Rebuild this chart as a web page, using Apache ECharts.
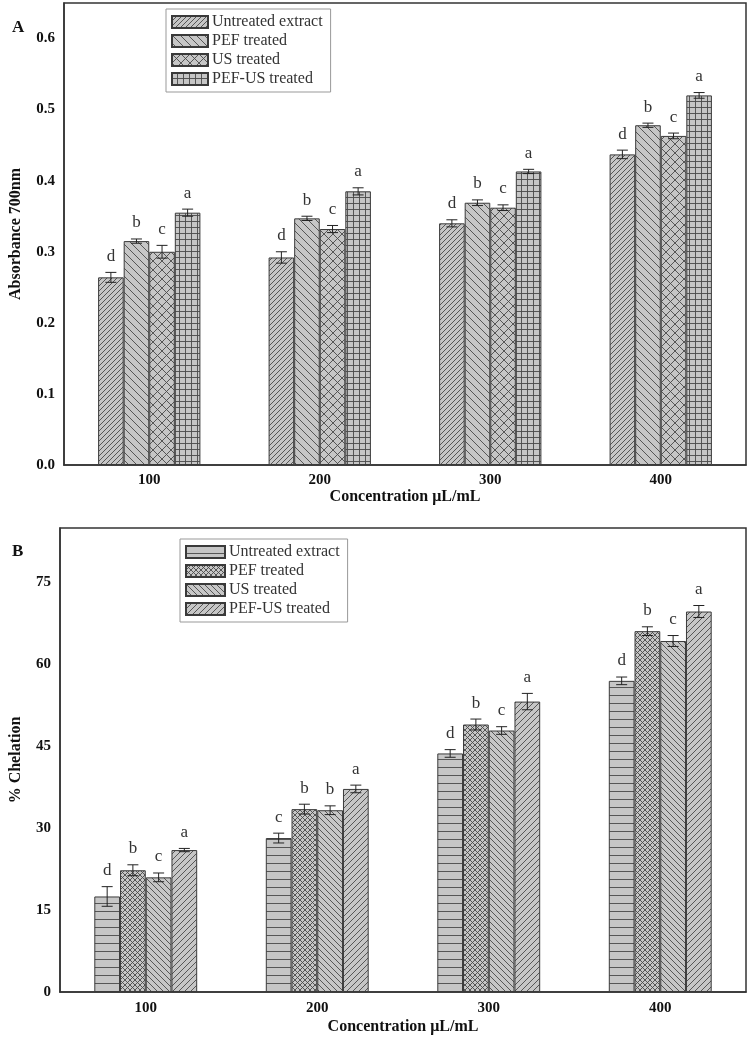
<!DOCTYPE html>
<html>
<head>
<meta charset="utf-8">
<script src="https://cdn.jsdelivr.net/npm/echarts@6/dist/echarts.min.js"></script>
<style>
html,body{margin:0;padding:0;background:#fff;}
#chart{width:750px;height:1038px;}
</style>
</head>
<body>
<div id="chart"></div>
<script>
// ---------- DATA ----------
const categories = ['100', '200', '300', '400'];
const groupNames = ['Untreated extract', 'PEF treated', 'US treated', 'PEF-US treated'];

// Panel A: Absorbance 700nm
const absUntreated = [0.264, 0.292, 0.340, 0.437];
const absPEF       = [0.315, 0.347, 0.369, 0.478];
const absUS        = [0.300, 0.332, 0.362, 0.463];
const absPEFUS     = [0.355, 0.385, 0.413, 0.520];
const absUntreatedErr = [0.007, 0.008, 0.005, 0.006];
const absPEFErr       = [0.003, 0.003, 0.004, 0.003];
const absUSErr        = [0.009, 0.005, 0.004, 0.004];
const absPEFUSErr     = [0.005, 0.005, 0.003, 0.004];
const absUntreatedLetters = ['d', 'd', 'd', 'd'];
const absPEFLetters       = ['b', 'b', 'b', 'b'];
const absUSLetters        = ['c', 'c', 'c', 'c'];
const absPEFUSLetters     = ['a', 'a', 'a', 'a'];

// Panel B: % Chelation
const chelUntreated = [17.5, 28.2, 43.7, 57.0];
const chelPEF       = [22.3, 33.5, 49.0, 66.1];
const chelUS        = [21.0, 33.3, 47.9, 64.3];
const chelPEFUS     = [26.0, 37.2, 53.2, 69.7];
const chelUntreatedErr = [1.8, 0.9, 0.7, 0.7];
const chelPEFErr       = [1.0, 0.9, 1.0, 0.8];
const chelUSErr        = [0.8, 0.8, 0.7, 1.0];
const chelPEFUSErr     = [0.3, 0.7, 1.5, 1.1];
const chelUntreatedLetters = ['d', 'c', 'd', 'd'];
const chelPEFLetters       = ['b', 'b', 'b', 'b'];
const chelUSLetters        = ['c', 'b', 'c', 'c'];
const chelPEFUSLetters     = ['a', 'a', 'a', 'a'];

const absTicks = [0, 0.65, 0.1];
const chelTicks = [0, 85, 15];

// ---------- STYLE ----------
const FONT = 'Liberation Serif';
const FILL = '#c6c6c6';
const INK = '#4a4a4a';

function makePattern(type, s) {
  const c = document.createElement('canvas');
  c.width = s; c.height = s;
  const g = c.getContext('2d');
  g.fillStyle = FILL; g.fillRect(0, 0, s, s);
  g.strokeStyle = INK; g.lineWidth = 0.9;
  g.beginPath();
  if (type === 'fwd' || type === 'cross') {
    for (let i = -1; i <= 1; i++) { g.moveTo(i * s, s); g.lineTo(i * s + s, 0); }
  }
  if (type === 'back' || type === 'cross') {
    for (let i = -1; i <= 1; i++) { g.moveTo(i * s, 0); g.lineTo(i * s + s, s); }
  }
  if (type === 'horiz' || type === 'grid') {
    g.moveTo(0, s - 0.5); g.lineTo(s, s - 0.5);
  }
  if (type === 'grid') {
    g.moveTo(s - 0.5, 0); g.lineTo(s - 0.5, s);
  }
  g.stroke();
  return { image: c, repeat: 'repeat' };
}

const patA = [makePattern('fwd', 5), makePattern('back', 8), makePattern('cross', 9), makePattern('grid', 6)];
const patB = [makePattern('horiz', 8), makePattern('cross', 5), makePattern('back', 6), makePattern('fwd', 6)];

const panels = [
  { prefix: 'A|', vals: [absUntreated, absPEF, absUS, absPEFUS],
    errs: [absUntreatedErr, absPEFErr, absUSErr, absPEFUSErr],
    letters: [absUntreatedLetters, absPEFLetters, absUSLetters, absPEFUSLetters], pats: patA },
  { prefix: 'B|', vals: [chelUntreated, chelPEF, chelUS, chelPEFUS],
    errs: [chelUntreatedErr, chelPEFErr, chelUSErr, chelPEFUSErr],
    letters: [chelUntreatedLetters, chelPEFLetters, chelUSLetters, chelPEFUSLetters], pats: patB }
];

const N = groupNames.length;
const GAP_FRAC = 0.6; // bars occupy 60% of the band (barCategoryGap 40%)

function errRender(idx, letters) {
  return function (params, api) {
    const ci = api.value(0), v = api.value(1), e = api.value(2);
    const band = api.size([1, 0])[0];
    const bw = band * GAP_FRAC / N;
    const off = (idx - (N - 1) / 2) * bw;
    const top = api.coord([ci, v + e]);
    const bot = api.coord([ci, v - e]);
    const x = top[0] + off;
    const cap = 5.5;
    const ls = { stroke: '#222', lineWidth: 1 };
    return {
      type: 'group',
      children: [
        { type: 'line', shape: { x1: x, y1: top[1], x2: x, y2: bot[1] }, style: ls },
        { type: 'line', shape: { x1: x - cap, y1: top[1], x2: x + cap, y2: top[1] }, style: ls },
        { type: 'line', shape: { x1: x - cap, y1: bot[1], x2: x + cap, y2: bot[1] }, style: ls },
        { type: 'text', x: x, y: top[1] - 16,
          style: { text: letters[params.dataIndex], fill: '#333', font: '17px "' + FONT + '"',
                   align: 'center', verticalAlign: 'middle' } }
      ]
    };
  };
}

const series = [];
panels.forEach((p, pi) => {
  groupNames.forEach((name, si) => {
    series.push({
      type: 'bar', name: p.prefix + name, xAxisIndex: pi, yAxisIndex: pi,
      data: p.vals[si], barGap: '0%', barCategoryGap: '40%',
      itemStyle: { color: p.pats[si], borderColor: '#3a3a3a', borderWidth: 1 },
      emphasis: { disabled: true }, z: 2
    });
  });
  groupNames.forEach((name, si) => {
    series.push({
      type: 'custom', name: p.prefix + 'err' + si, xAxisIndex: pi, yAxisIndex: pi,
      data: p.vals[si].map((v, i) => [i, v, p.errs[si][i]]),
      renderItem: errRender(si, p.letters[si]), clip: false, z: 5, silent: true
    });
  });
});

const axisLabelY = { color: '#111', fontFamily: FONT, fontWeight: 'bold', fontSize: 15, margin: 9, showMaxLabel: false };
const axisLabelX = { color: '#111', fontFamily: FONT, fontWeight: 'bold', fontSize: 15 };
const nameStyle = { color: '#111', fontFamily: FONT, fontWeight: 'bold', fontSize: 16 };
const axisLine = { show: true, lineStyle: { color: '#333', width: 1.5 } };

function legendFor(pi, left, top, iw) {
  return {
    show: true, orient: 'vertical', left: left, top: top,
    data: groupNames.map(n => panels[pi].prefix + n),
    formatter: n => n.slice(2),
    icon: 'rect', itemWidth: iw, itemHeight: 12, itemGap: 3,
    padding: [5, 8, 5, 5],
    borderColor: '#999', borderWidth: 1, backgroundColor: '#fff',
    textStyle: { color: '#333', fontFamily: FONT, fontSize: 16, lineHeight: 16, padding: [0, 0, 0, -1] },
    selectedMode: false
  };
}

const option = {
  animation: false,
  backgroundColor: '#fff',
  textStyle: { fontFamily: FONT },
  title: [
    { text: 'A', left: 7, top: 14, textStyle: { fontFamily: FONT, fontWeight: 'bold', fontSize: 17, color: '#111' } },
    { text: 'B', left: 7, top: 538, textStyle: { fontFamily: FONT, fontWeight: 'bold', fontSize: 17, color: '#111' } }
  ],
  legend: [legendFor(0, 166, 9, 36), legendFor(1, 180, 539, 39)],
  grid: [
    { left: 62, right: 4, top: 3, height: 462, show: true, borderColor: '#333', borderWidth: 1.5, containLabel: false },
    { left: 59, right: 4, top: 528, height: 464, show: true, borderColor: '#333', borderWidth: 1.5, containLabel: false }
  ],
  xAxis: [
    { type: 'category', gridIndex: 0, data: categories, axisTick: { show: false }, axisLine: axisLine,
      axisLabel: Object.assign({ margin: 8 }, axisLabelX),
      name: 'Concentration μL/mL', nameLocation: 'middle', nameGap: 20, nameTextStyle: nameStyle },
    { type: 'category', gridIndex: 1, data: categories, axisTick: { show: false }, axisLine: axisLine,
      axisLabel: Object.assign({ margin: 9 }, axisLabelX),
      name: 'Concentration μL/mL', nameLocation: 'middle', nameGap: 27, nameTextStyle: nameStyle }
  ],
  yAxis: [
    { type: 'value', gridIndex: 0, min: absTicks[0], max: absTicks[1], interval: absTicks[2],
      splitLine: { show: false }, axisTick: { show: false }, axisLine: axisLine,
      axisLabel: Object.assign({ formatter: v => v.toFixed(1) }, axisLabelY),
      name: 'Absorbance 700nm', nameLocation: 'middle', nameRotate: 90, nameGap: 40, nameTextStyle: nameStyle },
    { type: 'value', gridIndex: 1, min: chelTicks[0], max: chelTicks[1], interval: chelTicks[2],
      splitLine: { show: false }, axisTick: { show: false }, axisLine: axisLine,
      axisLabel: Object.assign({}, axisLabelY),
      name: '% Chelation', nameLocation: 'middle', nameRotate: 90, nameGap: 36, nameTextStyle: nameStyle }
  ],
  series: series
};

const chart = echarts.init(document.getElementById('chart'), null, { renderer: 'canvas' });
chart.setOption(option);
</script>
</body>
</html>
